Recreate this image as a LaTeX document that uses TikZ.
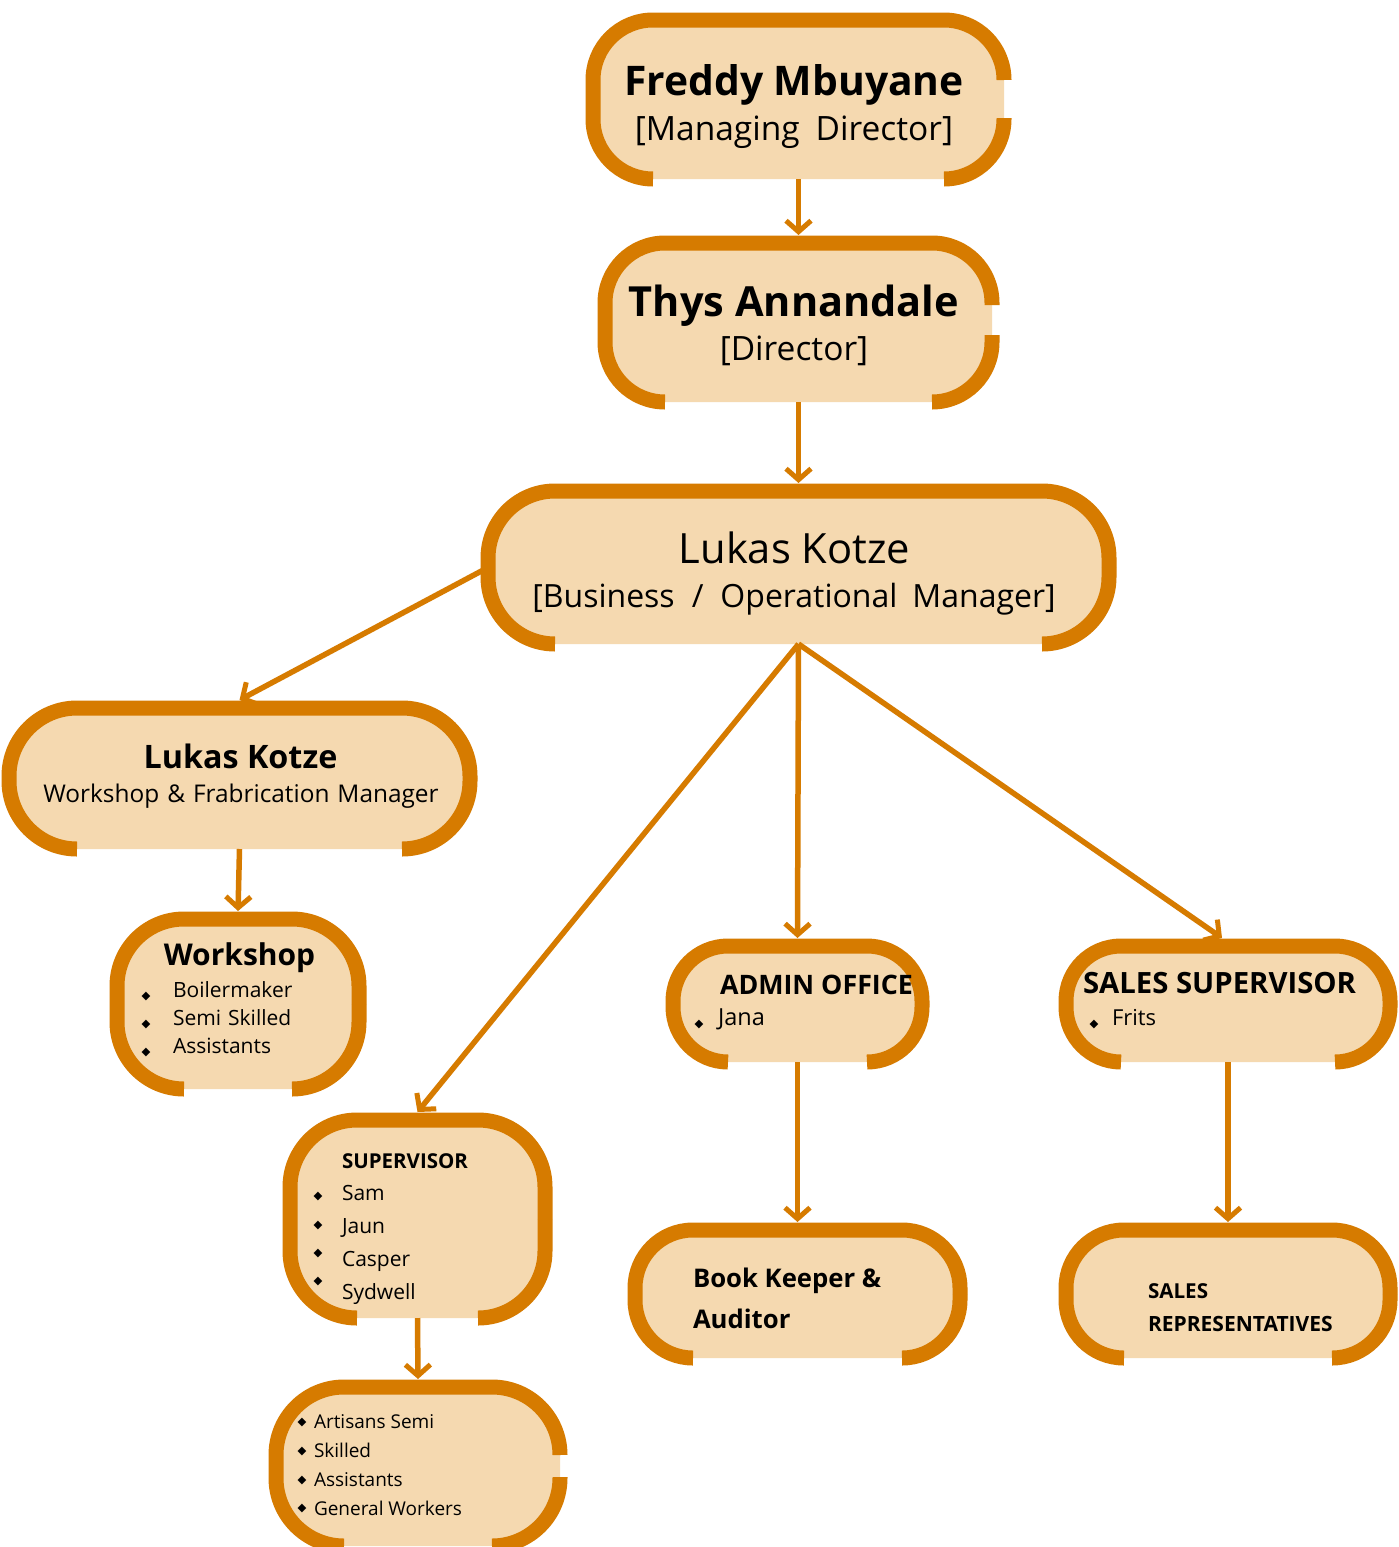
\documentclass[tikz,border=0pt]{standalone}
\usepackage{fontspec}
\setmainfont{Open Sans}
\newfontfamily\symf{DejaVu Sans}
\usetikzlibrary{arrows.meta}
\definecolor{orng}{RGB}{214,123,0}
\definecolor{peach}{RGB}{245,217,176}
\tikzset{
  boxgeom/.style={draw=none,inner sep=0pt,outer sep=0pt,rectangle},
  boxline/.style={draw=orng,line width=15pt},
  conn/.style={draw=orng,line width=5.5pt,-{Straight Barb[length=11pt,width=25pt,line width=5pt]}},
  txt/.style={inner sep=0pt,outer sep=0pt,text=black},
  bul/.style={inner sep=0pt,outer sep=0pt,text=black,font=\symf\fontsize{11.5}{11.5}\selectfont},
}
% name, L, T, R, B, r, gap top, gap bottom (right side)
\newcommand\obox[8]{%
  \node[boxgeom,minimum width={#4pt-#2pt},minimum height={#5pt-#3pt}] (#1) at ({(#2+#4)/2},{-(#3+#5)/2}) {};
  \fill[peach,rounded corners=#6pt] (#2,-#3) rectangle (#4,-#5);
  \draw[boxline] (#2+#6,-#5) arc[start angle=270,end angle=180,radius=#6pt] -- (#2,-#3-#6)
     arc[start angle=180,end angle=90,radius=#6pt] -- (#4-#6,-#3)
     arc[start angle=90,end angle=0,radius=#6pt] -- (#4,-#7);
  \draw[boxline] (#4,-#8) -- (#4,-#5+#6) arc[start angle=0,end angle=-90,radius=#6pt];
}
\begin{document}
\begin{tikzpicture}[x=1pt,y=1pt]
\useasboundingbox (0,0) rectangle (1399,-1547);
\fill[white] (0,0) rectangle (1399,-1547);

\obox{freddy}{593}{20}{1004}{179}{60}{80}{118}
\obox{thys}{605}{243}{992}{402}{60}{305}{335}
\obox{lukas}{488}{491}{1109}{644}{67}{567}{567}
\obox{wmgr}{9}{708}{470}{849}{68}{778}{778}
\obox{wshop}{117}{919}{359}{1089}{67}{1004}{1004}
\obox{sup}{290}{1120}{545}{1318}{67}{1219}{1219}
\obox{art}{276}{1387}{560}{1546}{68}{1455}{1477}
\obox{admin}{673}{946}{922}{1062}{55}{1004}{1004}
\obox{salessup}{1066}{946}{1390}{1062}{55}{1004}{1004}
\obox{book}{635}{1230}{960}{1358}{58}{1294}{1294}
\obox{reps}{1066}{1230}{1390}{1358}{58}{1294}{1294}

% connectors
\draw[conn] (freddy.south) -- ([yshift=8pt]thys.north);
\draw[conn] (thys.south) -- ([yshift=8pt]lukas.north);
\draw[conn] (lukas.west) -- ([yshift=8pt]wmgr.north);
\draw[conn] (lukas.south) -- ([yshift=8pt]sup.north);
\draw[conn] (lukas.south) -- ([yshift=8pt]admin.north);
\draw[conn] (lukas.south) -- ([xshift=-6pt,yshift=8pt]salessup.north);
\draw[conn] (wmgr.south) -- ([yshift=8pt]wshop.north);
\draw[conn] (sup.south) -- ([yshift=8pt]art.north);
\draw[conn] (admin.south) -- ([yshift=8pt]book.north);
\draw[conn] (salessup.south) -- ([yshift=8pt]reps.north);

% texts box 1
\node[txt,anchor=base,font=\fontsize{40.8}{48}\selectfont\bfseries] (t1a) at (794,-95) {Freddy Mbuyane};
\node[txt,anchor=base,font=\fontsize{33.5}{40}\selectfont] (t1b) at (794,-140) {[Managing\hspace{16pt}Director]};
% box 2
\node[txt,anchor=base,font=\fontsize{41.5}{48}\selectfont\bfseries] (t2a) at (794,-316) {Thys Annandale};
\node[txt,anchor=base,font=\fontsize{33.5}{40}\selectfont] (t2b) at (794,-360) {[Director]};
% box 3
\node[txt,anchor=base,font=\fontsize{41.7}{48}\selectfont] (t3a) at (794.5,-563) {Lukas Kotze};
\node[txt,anchor=base,font=\fontsize{32}{40}\selectfont] (t3b) at (794,-607) {[Business\hspace{17pt}/\hspace{17pt}Operational\hspace{15pt}Manager]};
% box 4
\node[txt,anchor=base,font=\fontsize{32.3}{40}\selectfont\bfseries] (t4a) at (240.5,-768) {Lukas Kotze};
\node[txt,anchor=base,font=\fontsize{24.4}{28}\selectfont] (t4b) at (241,-802) {Workshop\hspace{8pt}\&\hspace{8pt}Frabrication\hspace{8pt}Manager};
% box 5
\node[txt,anchor=base,font=\fontsize{30}{34}\selectfont\bfseries] (t5a) at (239.5,-965) {Workshop};
\node[txt,anchor=base west,font=\fontsize{21}{25}\selectfont] (t5b) at (173,-997) {Boilermaker};
\node[txt,anchor=base west,font=\fontsize{21}{25}\selectfont] (t5c) at (173,-1025) {Semi\hspace{7pt}Skilled};
\node[txt,anchor=base west,font=\fontsize{21}{25}\selectfont] (t5d) at (173,-1053) {Assistants};
\node[bul] (b5b) at (146,-996) {◆};
\node[bul] (b5c) at (146,-1024) {◆};
\node[bul] (b5d) at (146,-1052) {◆};
% box 6
\node[txt,anchor=base west,font=\fontsize{20.5}{25}\selectfont\bfseries] (t6a) at (342,-1168) {SUPERVISOR};
\node[txt,anchor=base west,font=\fontsize{21}{25}\selectfont] (t6b) at (342,-1200) {Sam};
\node[txt,anchor=base west,font=\fontsize{21}{25}\selectfont] (t6c) at (342,-1233) {Jaun};
\node[txt,anchor=base west,font=\fontsize{21}{25}\selectfont] (t6d) at (342,-1266) {Casper};
\node[txt,anchor=base west,font=\fontsize{21}{25}\selectfont] (t6e) at (342,-1299) {Sydwell};
\node[bul] (b6b) at (318,-1196) {◆};
\node[bul] (b6c) at (318,-1225) {◆};
\node[bul] (b6d) at (318,-1253) {◆};
\node[bul] (b6e) at (318,-1281) {◆};
% box 7
\node[txt,anchor=base west,font=\fontsize{19}{23}\selectfont] (t7a) at (314,-1428) {Artisans Semi};
\node[txt,anchor=base west,font=\fontsize{19}{23}\selectfont] (t7b) at (314,-1457) {Skilled};
\node[txt,anchor=base west,font=\fontsize{19}{23}\selectfont] (t7c) at (314,-1486) {Assistants};
\node[txt,anchor=base west,font=\fontsize{19}{23}\selectfont] (t7d) at (314,-1515) {General Workers};
\node[bul] (b7a) at (302,-1422) {◆};
\node[bul] (b7b) at (302,-1451) {◆};
\node[bul] (b7c) at (302,-1480) {◆};
\node[bul] (b7d) at (302,-1508) {◆};
% box 8
\node[txt,anchor=base west,font=\fontsize{26.8}{30}\selectfont\bfseries] (t8a) at (720,-994) {ADMIN OFFICE};
\node[txt,anchor=base west,font=\fontsize{23.5}{28}\selectfont] (t8b) at (718,-1025) {Jana};
\node[bul] (b8b) at (699,-1024) {◆};
% box 9
\node[txt,anchor=base west,font=\fontsize{29.3}{34}\selectfont\bfseries] (t9a) at (1083,-993) {SALES SUPERVISOR};
\node[txt,anchor=base west,font=\fontsize{22}{26}\selectfont] (t9b) at (1112,-1025) {Frits};
\node[bul] (b9b) at (1094,-1024) {◆};
% box 10
\node[txt,anchor=base west,font=\fontsize{25.7}{30}\selectfont\bfseries] (t10a) at (693,-1287) {Book Keeper \&};
\node[txt,anchor=base west,font=\fontsize{25.7}{30}\selectfont\bfseries] (t10b) at (693,-1328) {Auditor};
% box 11
\node[txt,anchor=base west,font=\fontsize{20.6}{24}\selectfont\bfseries] (t11a) at (1148,-1298) {SALES};
\node[txt,anchor=base west,font=\fontsize{21}{24}\selectfont\bfseries] (t11b) at (1148,-1331) {REPRESENTATIVES};
\end{tikzpicture}
\end{document}
